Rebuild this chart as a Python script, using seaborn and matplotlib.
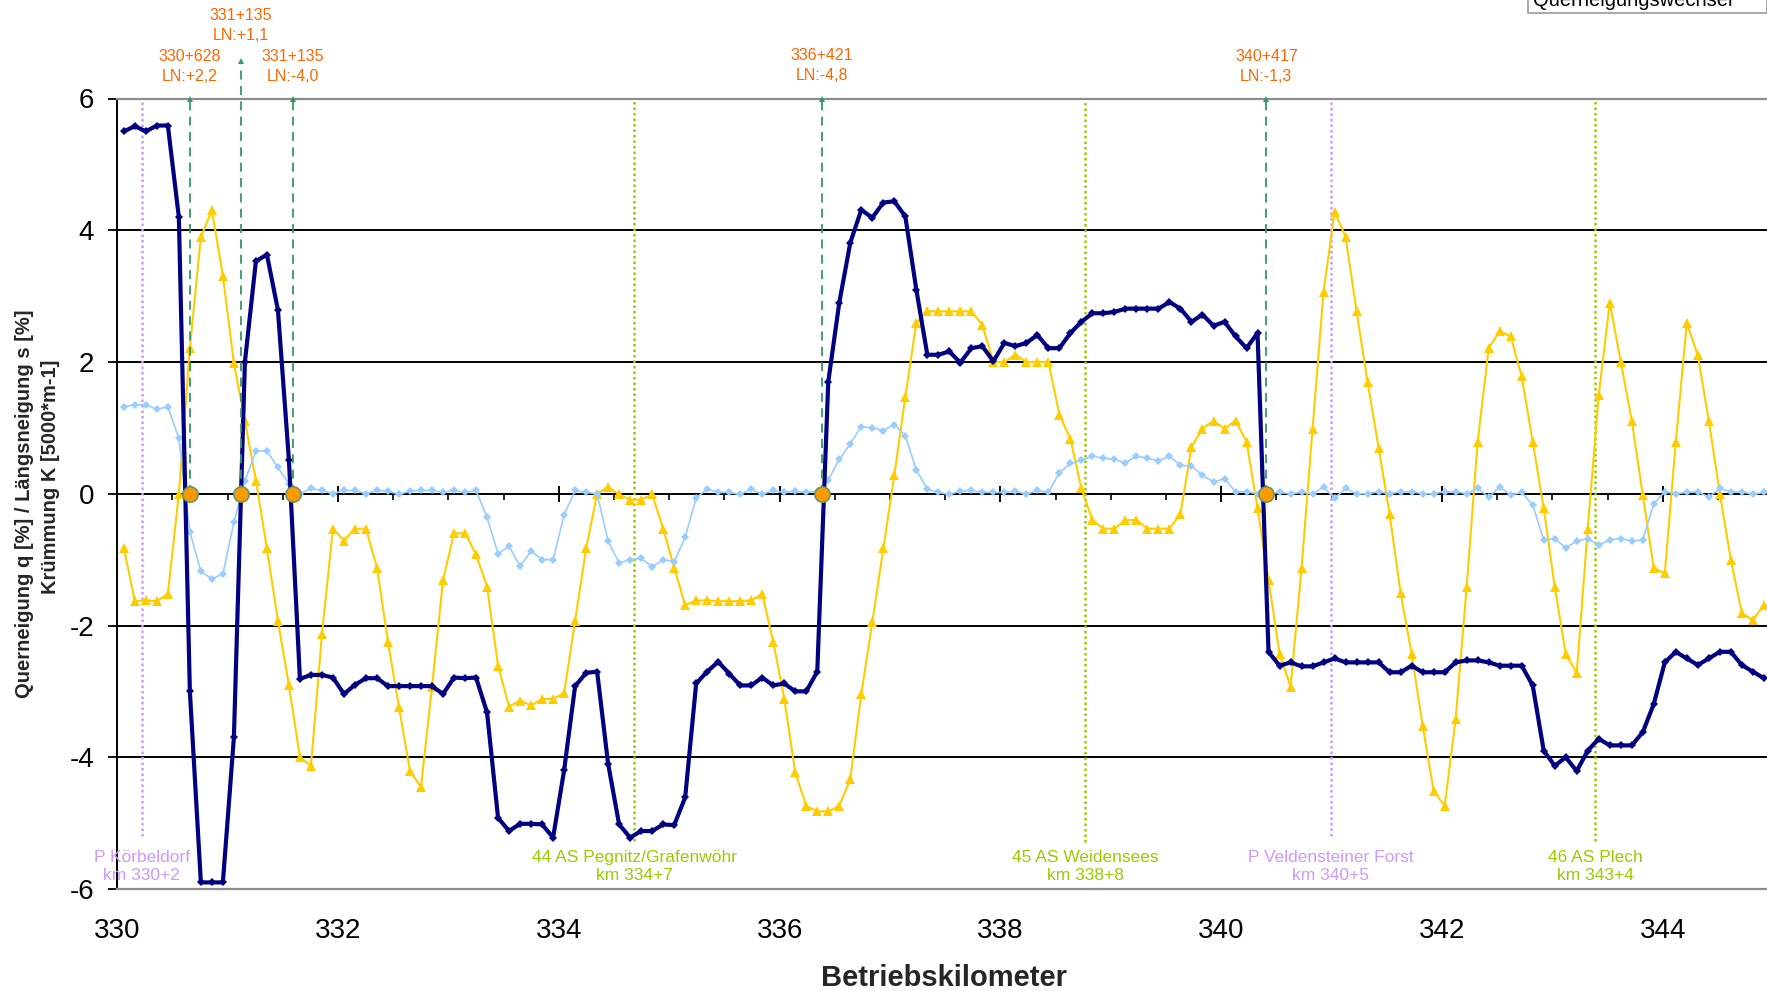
import numpy as np
import pandas as pd
import matplotlib
matplotlib.use("Agg")
import matplotlib.pyplot as plt
from matplotlib.patches import Rectangle
from matplotlib.ticker import MultipleLocator, FuncFormatter
import seaborn as sns

sns.set_theme(style="white")
plt.rcParams["font.family"] = ["Liberation Sans", "DejaVu Sans"]

# ---------------- data ----------------
START_KM = 330.06
STEP_KM = 0.0997

# Querneigung q [%]
q_values = [5.5, 5.58, 5.5, 5.59, 5.59, 4.2, -3.0, -5.9, -5.9, -5.9,
            -3.7, 2.0, 3.53, 3.63, 2.79, 0.51, -2.81, -2.75, -2.75, -2.79,
            -3.04, -2.9, -2.8, -2.8, -2.92, -2.92, -2.92, -2.92, -2.92, -3.04,
            -2.79, -2.8, -2.79, -3.32, -4.92, -5.12, -5.01, -5.01, -5.02, -5.22,
            -4.2, -2.92, -2.72, -2.7, -4.1, -5.02, -5.22, -5.12, -5.12, -5.02,
            -5.03, -4.61, -2.88, -2.7, -2.55, -2.73, -2.91, -2.91, -2.79, -2.91,
            -2.88, -3.0, -3.0, -2.7, 1.7, 2.9, 3.81, 4.31, 4.19, 4.42,
            4.44, 4.21, 3.1, 2.11, 2.11, 2.16, 1.99, 2.21, 2.24, 2.01,
            2.29, 2.24, 2.29, 2.41, 2.21, 2.21, 2.44, 2.61, 2.74, 2.74,
            2.76, 2.81, 2.81, 2.81, 2.81, 2.91, 2.81, 2.61, 2.72, 2.55,
            2.61, 2.39, 2.21, 2.44, -2.4, -2.61, -2.56, -2.62, -2.62, -2.56,
            -2.5, -2.56, -2.56, -2.56, -2.56, -2.71, -2.71, -2.61, -2.71, -2.71,
            -2.71, -2.56, -2.53, -2.53, -2.56, -2.61, -2.61, -2.61, -2.91, -3.9,
            -4.13, -4.0, -4.21, -3.9, -3.72, -3.82, -3.82, -3.82, -3.62, -3.19,
            -2.56, -2.4, -2.5, -2.6, -2.5, -2.4, -2.4, -2.6, -2.7, -2.8]

# Laengsneigung s [%]
s_values = [-0.82, -1.63, -1.62, -1.63, -1.52, 0.0, 2.21, 3.9, 4.3, 3.31,
            1.98, 1.11, 0.2, -0.83, -1.93, -2.91, -4.0, -4.13, -2.13, -0.53,
            -0.71, -0.53, -0.53, -1.12, -2.25, -3.24, -4.21, -4.45, -2.93, -1.31,
            -0.6, -0.6, -0.92, -1.41, -2.61, -3.23, -3.14, -3.21, -3.12, -3.11,
            -3.03, -1.93, -0.83, 0.0, 0.1, -0.01, -0.09, -0.09, -0.01, -0.53,
            -1.12, -1.69, -1.62, -1.62, -1.63, -1.63, -1.63, -1.62, -1.52, -2.25,
            -3.11, -4.23, -4.74, -4.82, -4.82, -4.74, -4.33, -3.04, -1.95, -0.83,
            0.28, 1.47, 2.59, 2.77, 2.77, 2.77, 2.77, 2.77, 2.56, 2.0,
            2.0, 2.11, 2.0, 2.0, 2.0, 1.2, 0.83, 0.08, -0.4, -0.53,
            -0.53, -0.4, -0.4, -0.53, -0.53, -0.53, -0.3, 0.71, 0.99, 1.11,
            0.99, 1.11, 0.79, -0.22, -1.31, -2.43, -2.93, -1.13, 0.99, 3.07,
            4.28, 3.9, 2.77, 1.69, 0.7, -0.31, -1.51, -2.43, -3.52, -4.51,
            -4.74, -3.42, -1.41, 0.79, 2.21, 2.47, 2.39, 1.78, 0.79, -0.22,
            -1.41, -2.43, -2.72, -0.53, 1.5, 2.9, 2.0, 1.11, -0.02, -1.13,
            -1.21, 0.79, 2.59, 2.1, 1.11, 0.0, -1.0, -1.81, -1.92, -1.69]

# Kruemmung K [5000*m-1]
k_values = [1.32, 1.35, 1.35, 1.28, 1.32, 0.84, -0.58, -1.18, -1.29, -1.22,
            -0.43, 0.19, 0.65, 0.65, 0.40, 0.15, 0.0, 0.08, 0.05, 0.0,
            0.05, 0.05, 0.0, 0.05, 0.04, -0.01, 0.04, 0.05, 0.05, 0.02,
            0.05, 0.02, 0.05, -0.36, -0.91, -0.80, -1.1, -0.87, -1.0, -1.0,
            -0.32, 0.05, 0.02, 0.0, -0.72, -1.05, -1.0, -0.98, -1.11, -1.0,
            -1.03, -0.66, -0.06, 0.07, 0.02, 0.02, -0.01, 0.07, -0.01, 0.05,
            0.02, 0.04, 0.02, 0.03, 0.21, 0.52, 0.76, 1.02, 1.0, 0.96,
            1.05, 0.88, 0.36, 0.07, 0.02, -0.01, 0.04, 0.05, 0.02, 0.02,
            0.02, 0.04, -0.01, 0.05, 0.02, 0.32, 0.46, 0.51, 0.57, 0.54,
            0.52, 0.47, 0.57, 0.54, 0.50, 0.57, 0.43, 0.42, 0.28, 0.18,
            0.23, 0.03, 0.03, 0.0, 0.0, 0.02, 0.0, 0.02, 0.0, 0.1,
            -0.07, 0.08, 0.0, 0.0, 0.03, 0.0, 0.03, 0.03, 0.0, 0.0,
            0.03, 0.03, 0.0, 0.08, -0.05, 0.1, -0.02, 0.02, -0.17, -0.7,
            -0.68, -0.82, -0.72, -0.68, -0.78, -0.7, -0.68, -0.72, -0.7, -0.15,
            0.03, 0.0, 0.02, 0.03, -0.05, 0.08, 0.03, 0.03, -0.01, 0.02]

# Querneigungswechsel (zero crossings)
wechsel_km = [330.661, 331.122, 331.590, 336.381, 340.409]
wechsel_top = [6.0, 6.57, 6.0, 6.0, 6.0]
wechsel_text_y = [6.48, 7.11, 6.48, 6.50, 6.48]
wechsel_labels = ["330+628\nLN:+2,2", "331+135\nLN:+1,1", "331+135\nLN:-4,0",
                  "336+421\nLN:-4,8", "340+417\nLN:-1,3"]

# places
place_km = [330.221, 334.685, 338.766, 340.994, 343.389]
place_bottom = [-5.19, -5.27, -5.29, -5.19, -5.27]
place_labels = ["P Körbeldorf\nkm 330+2", "44 AS Pegnitz/Grafenwöhr\nkm 334+7",
                "45 AS Weidensees\nkm 338+8", "P Veldensteiner Forst\nkm 340+5",
                "46 AS Plech\nkm 343+4"]
place_kind = ["P", "AS", "AS", "P", "AS"]

x_ticks = [330, 332, 334, 336, 338, 340, 342, 344]
y_ticks = [-6, -4, -2, 0, 2, 4, 6]

# ---------------- figure ----------------
W, H = 1767, 991
fig = plt.figure(figsize=(W / 100, H / 100), dpi=100)
ax = fig.add_axes([117.2 / W, 1 - 889 / H, 1 - 117.2 / W, (889 - 98.5) / H])

km = np.round(START_KM + STEP_KM * np.arange(len(q_values)), 4)
df = pd.DataFrame({"km": km, "q": q_values, "s": s_values, "k": k_values})

NAVY = "#000080"
YELLOW = "#FFCC00"
LBLUE = "#99CCFF"
PURPLE = "#CC99FF"
LGREEN = "#99CC00"
DGREEN = "#339966"
ORANGE_T = "#FF6600"

# gridlines
for yv in y_ticks:
    if abs(yv) in (2, 4):
        ax.axhline(yv, color="black", lw=1.4, zorder=0.8)

# place lines and labels
for xk, yb, lab, kind in zip(place_km, place_bottom, place_labels, place_kind):
    col = PURPLE if kind == "P" else LGREEN
    ax.vlines(xk, yb, 6.0, colors=col, lw=1.8, linestyles=(0, (1.0, 1.2)), zorder=1.5)
    ax.text(xk, -5.66, lab, color=col, fontsize=12.5, ha="center", va="center",
            linespacing=1.3, zorder=6)

# series
sns.lineplot(data=df, x="km", y="s", ax=ax, color=YELLOW, lw=1.5, marker="^",
             markersize=7, markeredgewidth=0, zorder=3, estimator=None, sort=False)
sns.lineplot(data=df, x="km", y="k", ax=ax, color=LBLUE, lw=1.2, marker="D",
             markersize=4.5, markeredgewidth=0, zorder=3.5, estimator=None, sort=False)
sns.lineplot(data=df, x="km", y="q", ax=ax, color=NAVY, lw=3.0, marker="D",
             markersize=3.8, markeredgewidth=0, zorder=4, estimator=None, sort=False)

# Querneigungswechsel: dashed arrows + circles + labels
for xk, top, ty, lab in zip(wechsel_km, wechsel_top, wechsel_text_y, wechsel_labels):
    ax.plot([xk, xk], [0, top - 0.05], color=DGREEN, lw=1.3,
            linestyle=(0, (5, 3.5)), zorder=4.5, clip_on=False)
    ax.plot([xk], [top], marker="^", markersize=5, color=DGREEN,
            markeredgewidth=0, zorder=4.6, clip_on=False)
    ax.text(xk, ty, lab, color=ORANGE_T, fontsize=11.5, ha="center", va="center",
            linespacing=1.4, zorder=6, clip_on=False)
sns.scatterplot(x=wechsel_km, y=[0] * len(wechsel_km), ax=ax, s=120,
                color="#FF9900", edgecolor="#669966", linewidth=1.2, zorder=5,
                clip_on=False)

# axes
ax.set_xlim(330, 330 + (W - 117.2) / 110.4)
ax.set_ylim(-6, 6)
ax.set_xticks(x_ticks)
ax.set_yticks(y_ticks)
ax.xaxis.set_major_formatter(FuncFormatter(lambda v, p: f"{v:.0f}"))
ax.yaxis.set_major_formatter(FuncFormatter(lambda v, p: f"{v:.0f}"))
ax.tick_params(axis="x", bottom=True, length=0, labelsize=20, pad=21, colors="black")
ax.tick_params(axis="y", left=True, direction="out", length=6.5, width=1.3,
               labelsize=20, pad=10, colors="black")
ax.set_xlabel("")
ax.set_ylabel("")
for side in ("top", "bottom"):
    ax.spines[side].set_color("#8c8c8c")
    ax.spines[side].set_linewidth(1.6)
ax.spines["left"].set_color("black")
ax.spines["left"].set_linewidth(1.4)
ax.spines["right"].set_visible(False)
ax.set_facecolor("white")

# category axis crossing at y = 0
sec = ax.secondary_xaxis(0.5)
sec.set_alignment("bottom")
sec.set_xticks(x_ticks)
sec.xaxis.set_minor_locator(MultipleLocator(0.5))
sec.tick_params(axis="x", which="major", direction="inout", length=12, width=1.4,
                labelbottom=False, labeltop=False, bottom=True, colors="black")
sec.tick_params(axis="x", which="minor", direction="out", length=4.5, width=1.2,
                bottom=True, colors="black")
sec.spines["bottom"].set_color("black")
sec.spines["bottom"].set_linewidth(1.4)
sec.spines["bottom"].set_zorder(2.9)

# axis titles
fig.text(944 / W, 1 - 986 / H, "Betriebskilometer", fontsize=21, fontweight="bold",
         ha="center", va="baseline")
fig.text(25 / W, 1 - 504 / H, "Querneigung q [%] / Längsneigung s [%]", fontsize=14.5,
         fontweight="bold", rotation=90, ha="center", va="center")
fig.text(51 / W, 1 - 477 / H, "Krümmung K [5000*m-1]", fontsize=14.5,
         fontweight="bold", rotation=90, ha="center", va="center")

# partially visible legend box at the top right
fig.add_artist(Rectangle((1528 / W, 1 - 13 / H), (W - 1528) / W, 40 / H,
                         transform=fig.transFigure, facecolor="white",
                         edgecolor="#9a9a9a", lw=1.2, clip_on=False))
fig.text(1533 / W, 1 - 6 / H, "Querneigungswechsel", fontsize=14.5, ha="left",
         va="baseline", color="black")

fig.savefig("out.png", dpi=100, facecolor="white")
